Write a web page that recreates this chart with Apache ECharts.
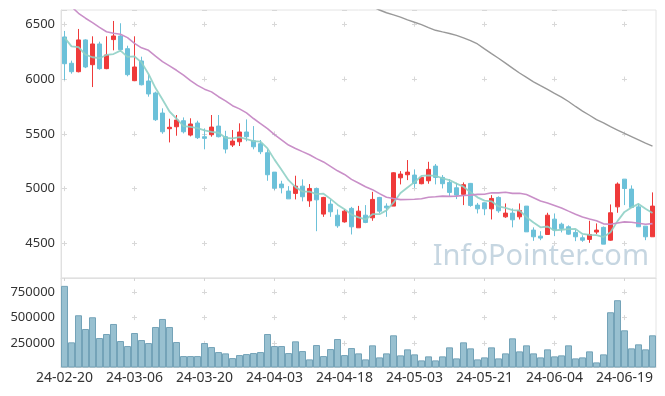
<!DOCTYPE html>
<html>
<head>
<meta charset="utf-8">
<script src="https://cdn.jsdelivr.net/npm/echarts@6/dist/echarts.min.js"></script>
<style>
html,body{margin:0;padding:0;background:#fff;}
#chart{width:665px;height:396px;}
</style>
</head>
<body>
<div id="chart"></div>
<script>
var dates = ['24-02-20','24-02-21','24-02-22','24-02-23','24-02-26','24-02-27','24-02-28','24-02-29','24-03-04','24-03-05',
'24-03-06','24-03-07','24-03-08','24-03-11','24-03-12','24-03-13','24-03-14','24-03-15','24-03-18','24-03-19',
'24-03-20','24-03-21','24-03-22','24-03-25','24-03-26','24-03-27','24-03-28','24-03-29','24-04-01','24-04-02',
'24-04-03','24-04-04','24-04-05','24-04-08','24-04-09','24-04-11','24-04-12','24-04-15','24-04-16','24-04-17',
'24-04-18','24-04-19','24-04-22','24-04-23','24-04-24','24-04-25','24-04-26','24-04-29','24-04-30','24-05-02',
'24-05-03','24-05-07','24-05-08','24-05-09','24-05-10','24-05-13','24-05-14','24-05-16','24-05-17','24-05-20',
'24-05-21','24-05-22','24-05-23','24-05-24','24-05-27','24-05-28','24-05-29','24-05-30','24-05-31','24-06-03',
'24-06-04','24-06-05','24-06-07','24-06-10','24-06-11','24-06-12','24-06-13','24-06-14','24-06-17','24-06-18',
'24-06-19','24-06-20','24-06-21','24-06-24','24-06-25'];

var opens = [6384,6144,6067,6357,6131,6320,6095,6360,6393,6277,
5985,6165,5982,5873,5690,5547,5565,5620,5489,5599,
5474,5492,5571,5474,5398,5428,5517,5437,5410,5328,
5151,5042,4978,4957,5023,4889,5002,4768,4859,4758,
4697,4820,4643,4758,4734,4920,4841,4841,5099,5127,
5124,5045,5072,5206,5103,5057,5008,4948,5048,4850,
4871,4816,4920,4743,4777,4743,4841,4622,4567,4582,
4722,4676,4652,4601,4552,4537,4604,4647,4530,4834,
5087,4996,4834,4658,4561];

var closes = [6140,6067,6357,6110,6320,6095,6220,6393,6268,6040,
6110,5948,5864,5629,5519,5560,5626,5519,5590,5465,
5459,5562,5474,5361,5434,5517,5474,5382,5337,5127,
5005,5008,4907,5023,4926,5002,4898,4920,4789,4661,
4795,4652,4795,4692,4902,4795,4825,5145,5133,5151,
5048,5103,5176,5103,5045,4966,4941,5036,4847,4816,
4816,4911,4798,4777,4716,4801,4606,4561,4549,4758,
4622,4637,4585,4561,4530,4582,4622,4494,4780,5042,
5002,4829,4652,4561,4841];

var lows = [5991,6049,6061,6100,5927,6085,6090,6262,6250,6025,
5985,5942,5839,5618,5501,5422,5483,5504,5477,5453,
5359,5474,5468,5322,5380,5389,5432,5359,5315,5072,
4987,4957,4907,4902,4884,4834,4612,4743,4743,4643,
4690,4582,4643,4685,4707,4777,4743,4841,5039,5078,
5008,5040,5045,5039,5002,4933,4905,4850,4835,4774,
4758,4719,4780,4734,4647,4719,4606,4524,4530,4582,
4567,4601,4580,4521,4515,4506,4585,4494,4525,4780,
4850,4829,4652,4530,4561];

var highs = [6439,6168,6457,6363,6390,6341,6390,6530,6509,6304,
6390,6204,6040,5885,5733,5638,5672,5650,5642,5620,
5550,5672,5672,5528,5535,5596,5632,5571,5444,5359,
5151,5072,5023,5118,5085,5042,5010,4925,4902,4811,
4812,4834,4843,4850,4971,4925,4866,5150,5160,5261,
5176,5108,5245,5225,5124,5087,5054,5057,5052,4870,
4875,4941,4930,4865,4820,4865,4841,4647,4612,4780,
4774,4690,4665,4625,4575,4707,4683,4655,4856,5057,
5087,5030,4865,4658,4966];

var volumes = [808500,259700,522900,389400,503400,301700,340600,438100,272400,223700,
350400,282200,252900,408900,486900,408900,262700,126200,126200,126200,
252900,213900,165200,152500,106700,136000,145700,155500,165200,340600,
223700,223700,155500,269500,175000,94000,233400,126200,194400,291900,
136000,204200,152500,94000,230500,113500,152500,328000,133000,191500,
142800,84300,123300,84300,123300,211000,103800,259700,201300,94000,
113500,211000,103800,152500,298700,172000,230500,152500,113500,191500,
123300,133000,230500,103800,113500,172000,64800,142800,552200,669100,
376700,201300,240300,191500,328000];

var ma5 = [6378,6298,6292,6222,6199,6190,6220,6228,6259,6203,
6206,6152,6046,5918,5814,5704,5640,5571,5563,5552,
5532,5519,5510,5464,5458,5470,5452,5434,5429,5367,
5265,5172,5077,5014,4974,4973,4951,4954,4907,4854,
4813,4763,4738,4719,4767,4767,4802,4872,4960,5010,
5060,5116,5122,5116,5095,5079,5046,5018,4967,4921,
4891,4885,4838,4824,4804,4801,4740,4692,4647,4655,
4619,4625,4630,4633,4587,4579,4576,4558,4602,4704,
4788,4829,4861,4817,4777];

var ma20 = [6700,6660,6600,6555,6515,6472,6432,6418,6408,6378,
6325,6285,6262,6210,6159,6120,6080,6035,5985,5942,
5908,5883,5839,5801,5757,5728,5691,5640,5594,5548,
5493,5446,5398,5367,5338,5310,5274,5244,5204,5163,
5130,5085,5051,5017,4991,4955,4922,4910,4900,4901,
4903,4908,4922,4926,4932,4930,4932,4938,4941,4948,
4949,4962,4962,4967,4957,4958,4947,4918,4888,4869,
4847,4824,4795,4767,4742,4723,4707,4679,4676,4687,
4697,4693,4685,4675,4681];

var ma60 = [null,null,null,null,null,null,null,null,null,null,
null,null,null,null,null,null,null,null,null,null,
null,null,null,null,null,null,null,null,null,null,
null,null,null,null,null,null,null,null,null,null,
null,null,null,6690,6660,6630,6605,6585,6565,6540,
6518,6497,6470,6445,6430,6416,6398,6375,6350,6320,
6275,6232,6190,6145,6100,6055,6015,5975,5940,5906,
5870,5835,5795,5750,5708,5670,5630,5600,5565,5535,
5505,5475,5445,5415,5388];

var candleData = dates.map(function (d, i) {
  return [opens[i], closes[i], lows[i], highs[i]];
});

var FONT = '"Noto Sans", "DejaVu Sans", sans-serif';
var GRIDC = '#d8d8d8';
function plain(v) { return String(v); }

var chart = echarts.init(document.getElementById('chart'), null, {renderer: 'canvas'});
chart.setOption({
  animation: false,
  backgroundColor: '#ffffff',
  textStyle: {fontFamily: FONT},
  graphic: [{
    type: 'text',
    z: 0,
    style: {
      text: 'InfoPointer.com',
      x: 649, y: 257,
      align: 'right',
      verticalAlign: 'middle',
      fontFamily: FONT,
      fontSize: 29,
      fill: '#c6d6e1'
    }
  }],
  grid: [
    {left: 61, top: 10, width: 595, height: 268, show: true, borderColor: '#e4e4e4', borderWidth: 1},
    {left: 61, top: 278, width: 595, height: 89, show: true, borderColor: '#e4e4e4', borderWidth: 1}
  ],
  xAxis: [
    {
      type: 'category', gridIndex: 0, data: dates, boundaryGap: true,
      axisLine: {show: true, lineStyle: {color: '#e0e0e0'}},
      axisTick: {show: true, interval: 9, alignWithLabel: true, length: 3, lineStyle: {color: '#d4d4d4'}},
      axisLabel: {show: false, interval: 9},
      splitLine: {show: true, interval: 9, alignWithLabel: true,
        lineStyle: {color: GRIDC, width: 1, type: [5, 49.8], dashOffset: 43.05}}
    },
    {
      type: 'category', gridIndex: 1, data: dates, boundaryGap: true,
      axisLine: {show: true, lineStyle: {color: '#d8d8d8'}},
      axisTick: {show: false},
      axisLabel: {show: true, interval: 9, fontSize: 14, color: '#333', margin: 4, fontFamily: FONT},
      splitLine: {show: true, interval: 9, alignWithLabel: true,
        lineStyle: {color: GRIDC, width: 1, type: [5, 20.72], dashOffset: 14.33}}
    }
  ],
  yAxis: [
    {
      type: 'value', gridIndex: 0, min: 4185, max: 6630, minInterval: 500, maxInterval: 500,
      axisLine: {show: true, lineStyle: {color: '#e0e0e0'}},
      axisTick: {show: false},
      axisLabel: {fontSize: 13, color: '#333', margin: 6, showMinLabel: false, showMaxLabel: false,
        fontFamily: FONT, formatter: plain},
      splitLine: {show: true, lineStyle: {color: GRIDC, width: 1, type: [5, 65], dashOffset: 69}}
    },
    {
      type: 'value', gridIndex: 1, min: 20000, max: 885000, minInterval: 250000, maxInterval: 250000,
      axisLine: {show: true, lineStyle: {color: '#e0e0e0'}},
      axisTick: {show: false},
      axisLabel: {fontSize: 13, color: '#333', margin: 6, showMinLabel: false, showMaxLabel: false,
        fontFamily: FONT, formatter: plain},
      splitLine: {show: true, lineStyle: {color: GRIDC, width: 1, type: [5, 65], dashOffset: 69}}
    }
  ],
  series: [
    {
      name: 'candle', type: 'candlestick', xAxisIndex: 0, yAxisIndex: 0,
      data: candleData, barWidth: 5, z: 3,
      itemStyle: {color: '#ef3a3a', color0: '#6cc1d9', borderColor: '#ef3a3a', borderColor0: '#6cc1d9', borderWidth: 1}
    },
    {
      name: 'MA5', type: 'line', xAxisIndex: 0, yAxisIndex: 0, data: ma5, symbol: 'none', z: 5,
      lineStyle: {color: '#8fd0c5', width: 1.8, opacity: 0.9}
    },
    {
      name: 'MA20', type: 'line', xAxisIndex: 0, yAxisIndex: 0, data: ma20, symbol: 'none', z: 5,
      lineStyle: {color: '#c98fc8', width: 1.6}
    },
    {
      name: 'MA60', type: 'line', xAxisIndex: 0, yAxisIndex: 0, data: ma60, symbol: 'none', z: 5,
      lineStyle: {color: '#999999', width: 1.4}
    },
    {
      name: 'volume', type: 'bar', xAxisIndex: 1, yAxisIndex: 1, data: volumes,
      barCategoryGap: '0%', z: 3,
      itemStyle: {color: '#98c0d0', borderColor: '#74a3b8', borderWidth: 1}
    }
  ]
});
</script>
</body>
</html>
